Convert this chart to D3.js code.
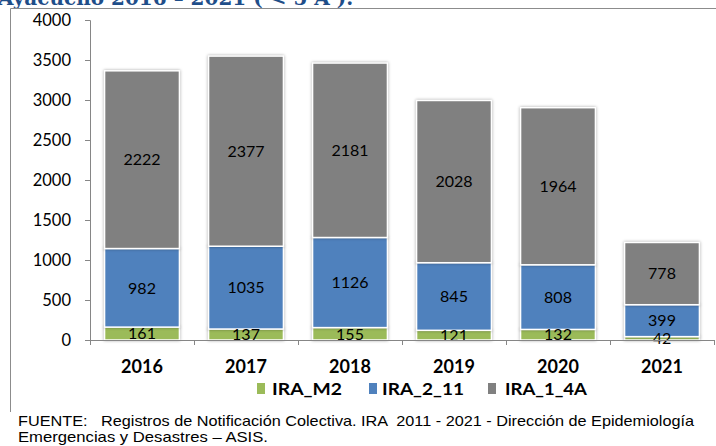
<!DOCTYPE html>
<html><head><meta charset="utf-8">
<script src="https://cdn.jsdelivr.net/npm/d3@7"></script>
<style>body{margin:0;background:#fff}svg{display:block}</style>
</head><body>
<svg id="c" width="716" height="446"></svg>
<script>
const years = ["2016","2017","2018","2019","2020","2021"];
const seriesNames = ["IRA_M2","IRA_2_11","IRA_1_4A"];
const ira_m2 = [161,137,155,121,132,42];
const ira_2_11 = [982,1035,1126,845,808,399];
const ira_1_4a = [2222,2377,2181,2028,1964,778];
const yTicks = [0,500,1000,1500,2000,2500,3000,3500,4000];
const colors = ["#9BBB59","#4F81BD","#808080"];

const svg = d3.select("#c");
const font = "Lato, 'Open Sans', sans-serif";

// title (cut off at top, as in the source)
svg.append("text").attr("x",-2).attr("y",5)
  .attr("font-family","'DejaVu Serif', serif").attr("font-weight","bold")
  .attr("font-size",20).attr("fill","#1F4E89")
  .text("Ayacucho 2016 – 2021 ( < 5 A ).");

// frame
svg.append("path").attr("d","M10.5,412 V8.5 H716").attr("fill","none").attr("stroke","#8c8c8c").attr("stroke-width",1);

const data = years.map((y,i)=>({year:y, IRA_M2:ira_m2[i], IRA_2_11:ira_2_11[i], IRA_1_4A:ira_1_4a[i]}));
const stack = d3.stack().keys(seriesNames)(data);

const x = d3.scaleBand().domain(years).range([90,714]).paddingInner(0.28).paddingOuter(0.14);
const y = d3.scaleLinear().domain([0,4000]).range([340,20]);

// y axis
const ya = svg.append("g").attr("transform","translate(90,0)")
  .call(d3.axisLeft(y).tickValues(yTicks).tickSize(5).tickPadding(14).tickFormat(d3.format("d")));
ya.select(".domain").attr("stroke","#868686").attr("d","M-5,20.5H0.5V340.5H-5");
ya.selectAll(".tick line").attr("stroke","#868686");
ya.selectAll(".tick text").attr("font-family",font).attr("font-size",16.5).attr("fill","#000");

// bars
const g = svg.append("g");
stack.forEach((s,k)=>{
  g.selectAll(null).data(s).enter().append("rect")
    .attr("x",d=>x(d.data.year)).attr("width",x.bandwidth())
    .attr("y",d=>y(d[1])).attr("height",d=>y(d[0])-y(d[1]))
    .attr("fill",colors[k]).attr("stroke","#fff").attr("stroke-width",1.5)
    .style("filter","drop-shadow(0px 0px 1.5px rgba(0,0,0,0.35))");
});
stack.forEach((s,k)=>{
  g.selectAll(null).data(s).enter().append("text")
    .attr("x",d=>x(d.data.year)+x.bandwidth()/2)
    .attr("y",d=>(y(d[0])+y(d[1]))/2)
    .attr("dy","0.36em").attr("text-anchor","middle")
    .attr("font-family",font).attr("font-size",16).attr("fill","#000")
    .text(d=>d[1]-d[0]);
});

// x axis
const xa = svg.append("g").attr("transform","translate(0,340)");
xa.append("line").attr("x1",90).attr("x2",714).attr("y1",0.5).attr("y2",0.5).attr("stroke","#868686");
const bounds = years.map((d,i)=>90 + i*(624/6)).concat([714]);
xa.selectAll(null).data(bounds).enter().append("line")
  .attr("x1",d=>Math.round(d)+0.5).attr("x2",d=>Math.round(d)+0.5).attr("y1",0).attr("y2",5).attr("stroke","#868686");
xa.selectAll(null).data(years).enter().append("text")
  .attr("x",d=>x(d)+x.bandwidth()/2).attr("y",33).attr("text-anchor","middle")
  .attr("font-family",font).attr("font-weight","bold").attr("font-size",18).attr("fill","#000")
  .text(d=>d);

// legend
const legSq = [257,369,488];
const legTx = [272,382,505];
const legW = [70,82,82];
const lg = svg.append("g");
seriesNames.forEach((n,k)=>{
  lg.append("rect").attr("x",legSq[k]).attr("y",383).attr("width",8).attr("height",11).attr("fill",colors[k]);
  lg.append("text").attr("x",legTx[k]).attr("y",395).attr("font-family",font).attr("font-weight","bold")
    .attr("font-size",17).attr("fill","#000").attr("textLength",legW[k]).attr("lengthAdjust","spacingAndGlyphs").text(n);
});

// footer
const ff = "'Liberation Sans',Arial,sans-serif";
svg.append("text").attr("x",18).attr("y",426).attr("font-family",ff)
  .attr("font-size",15).attr("fill","#000").attr("xml:space","preserve")
  .attr("textLength",676).attr("lengthAdjust","spacingAndGlyphs")
  .text("FUENTE:   Registros de Notificación Colectiva. IRA  2011 - 2021 - Dirección de Epidemiología");
svg.append("text").attr("x",18).attr("y",442).attr("font-family",ff)
  .attr("font-size",15).attr("fill","#000")
  .attr("textLength",250).attr("lengthAdjust","spacingAndGlyphs")
  .text("Emergencias y Desastres – ASIS.");
</script>
</body></html>
